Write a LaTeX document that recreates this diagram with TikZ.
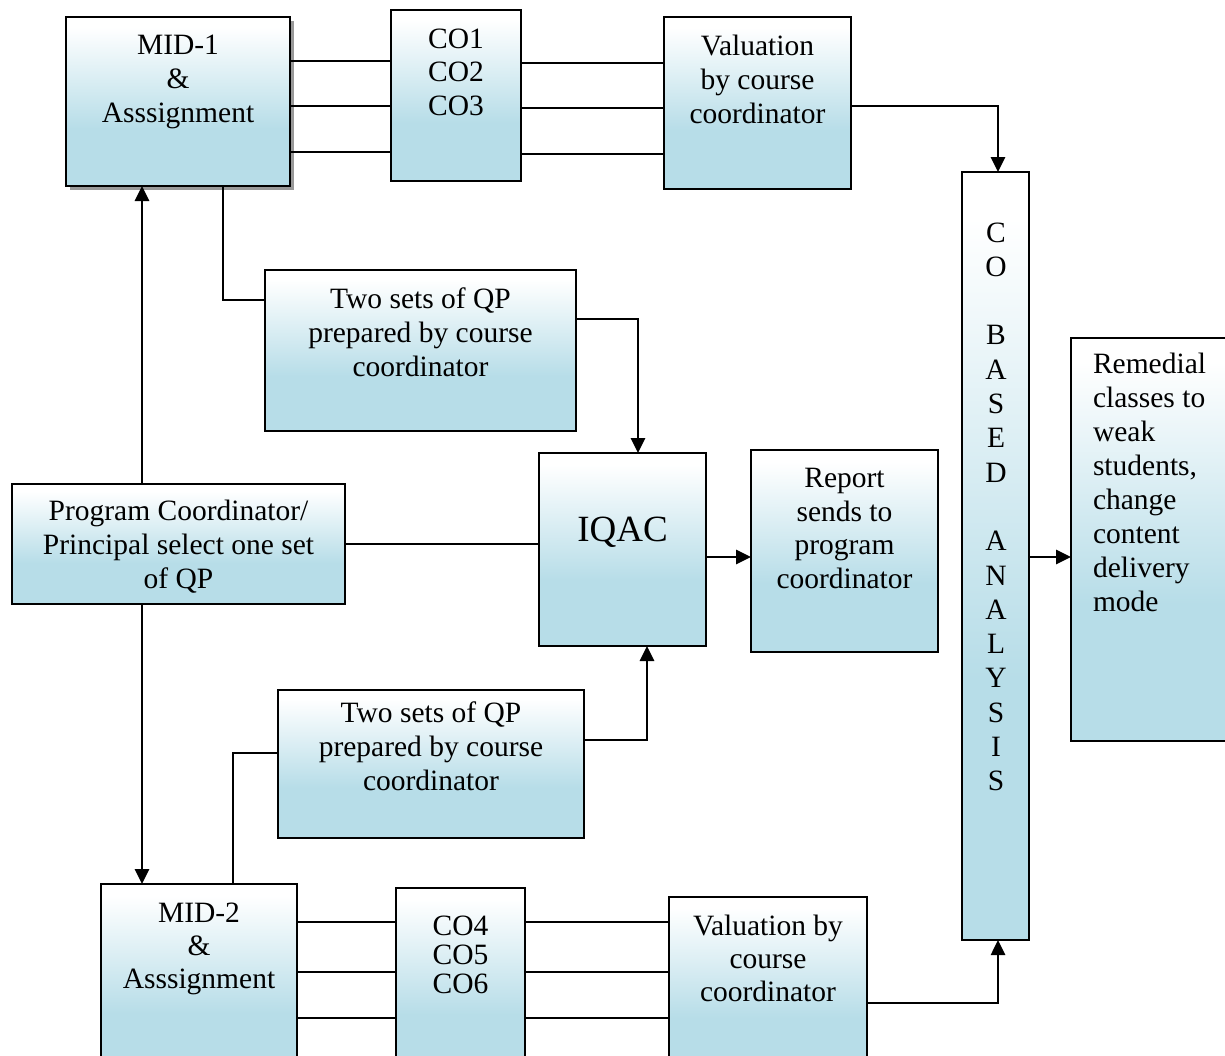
\documentclass[tikz,border=0pt]{standalone}
\usepackage{fontspec}
\setmainfont{Liberation Serif}
\usetikzlibrary{arrows.meta,shadows}
\definecolor{bl}{RGB}{183,221,232}
\pgfdeclareverticalshading{boxfill}{100bp}{color(0bp)=(bl); color(42bp)=(bl); color(72bp)=(white); color(100bp)=(white)}
\begin{document}
\begin{tikzpicture}[x=1pt,y=-1pt,
  box/.style={draw, line width=2.7pt, shade, shading=boxfill, inner sep=0pt, outer sep=0pt},
  txt/.style={font=\fontsize{29.5}{34}\selectfont, inner sep=0pt, outer sep=0pt, align=center, anchor=north},
  conn/.style={line width=2.7pt},
  arr/.style={conn, -{Triangle[length=15pt,width=14pt]}}]
\useasboundingbox (0,0) rectangle (1225,1055);
\clip (0,0) rectangle (1225,1055);
% boxes
\node[box, minimum width=224pt, minimum height=169pt,
      drop shadow={shadow xshift=3.5pt, shadow yshift=-3.5pt, fill=black!40, opacity=1}] (mid1) at (178,101.5) {};
\node[box, minimum width=130pt, minimum height=171pt] (co1) at (456,95.5) {};
\node[box, minimum width=187pt, minimum height=172pt] (val1) at (757.5,103) {};
\node[box, minimum width=67pt, minimum height=768pt] (coba) at (995.5,556) {};
\node[box, minimum width=169pt, minimum height=403pt] (rem) at (1155.5,539.5) {};
\node[box, minimum width=311pt, minimum height=161pt] (qp1) at (420.5,350.5) {};
\node[box, minimum width=167pt, minimum height=193pt] (iqac) at (622.5,549.5) {};
\node[box, minimum width=187pt, minimum height=202pt] (rep) at (844.5,551) {};
\node[box, minimum width=333pt, minimum height=120pt] (prog) at (178.5,544) {};
\node[box, minimum width=306pt, minimum height=148pt] (qp2) at (431,764) {};
\node[box, minimum width=196pt, minimum height=196pt] (mid2) at (199,982) {};
\node[box, minimum width=129pt, minimum height=192pt] (co2) at (460.5,984) {};
\node[box, minimum width=198pt, minimum height=183pt] (val2) at (768,988.5) {};
% texts
\node[txt] (mid1t) at (178,35.5) {MID-1\\\&\\Asssignment};
\node[txt, font=\fontsize{29.5}{33.5}\selectfont] (co1t) at (456,28.5) {CO1\\CO2\\CO3};
\node[txt] (val1t) at (757.5,35.5) {Valuation\\by course\\coordinator};
\node[txt] (qp1t) at (420.5,287.5) {Two sets of QP\\prepared by course\\coordinator};
\node[inner sep=0pt, anchor=base, font=\fontsize{37}{40}\selectfont] (iqact) at (622.5,541) {IQAC};
\node[txt, font=\fontsize{29.5}{33.5}\selectfont] (rept) at (844.5,468.5) {Report\\sends to\\program\\coordinator};
\node[txt] (progt) at (178.5,500.5) {Program Coordinator/\\Principal select one set\\of QP};
\node[txt] (qp2t) at (431,701.5) {Two sets of QP\\prepared by course\\coordinator};
\node[txt, font=\fontsize{29.5}{33}\selectfont] (mid2t) at (199,902.5) {MID-2\\\&\\Asssignment};
\node[txt, font=\fontsize{29.5}{29}\selectfont] (co2t) at (460.5,915.5) {CO4\\CO5\\CO6};
\node[txt, font=\fontsize{29.5}{33}\selectfont] (val2t) at (768,915.5) {Valuation by\\course\\coordinator};
\node[txt, align=left, anchor=north west] (remt) at (1093,353.5) {Remedial\\classes to\\weak\\students,\\change\\content\\delivery\\mode};
\node[txt, font=\fontsize{29.5}{34.3}\selectfont] (cobat) at (996,222.5) {C\\O\\~\\B\\A\\S\\E\\D\\~\\A\\N\\A\\L\\Y\\S\\I\\S};
% connectors: top row
\draw[conn] (mid1.east |- 0,61) -- (co1.west |- 0,61);
\draw[conn] (mid1.east |- 0,106) -- (co1.west |- 0,106);
\draw[conn] (mid1.east |- 0,152) -- (co1.west |- 0,152);
\draw[conn] (co1.east |- 0,63) -- (val1.west |- 0,63);
\draw[conn] (co1.east |- 0,108) -- (val1.west |- 0,108);
\draw[conn] (co1.east |- 0,154) -- (val1.west |- 0,154);
\draw[arr] (val1.east |- 0,106) -| (coba.north -| 998,0);
% bottom row
\draw[conn] (mid2.east |- 0,922) -- (co2.west |- 0,922);
\draw[conn] (mid2.east |- 0,972) -- (co2.west |- 0,972);
\draw[conn] (mid2.east |- 0,1018) -- (co2.west |- 0,1018);
\draw[conn] (co2.east |- 0,922) -- (val2.west |- 0,922);
\draw[conn] (co2.east |- 0,972) -- (val2.west |- 0,972);
\draw[conn] (co2.east |- 0,1018) -- (val2.west |- 0,1018);
\draw[arr] (val2.east |- 0,1003) -| (coba.south -| 998,0);
% middle
\draw[conn] (mid1.south -| 223,0) |- (qp1.west |- 0,300);
\draw[arr] (qp1.east |- 0,319) -| (iqac.north -| 638,0);
\draw[arr] (prog.north -| 142,0) -- (mid1.south -| 142,0);
\draw[conn] (prog.east) -- (iqac.west |- prog.east);
\draw[arr] (prog.south -| 142,0) -- (mid2.north -| 142,0);
\draw[conn] (mid2.north -| 233,0) |- (qp2.west |- 0,753);
\draw[arr] (qp2.east |- 0,740) -| (iqac.south -| 647,0);
\draw[arr] (iqac.east |- 0,557) -- (rep.west |- 0,557);
\draw[arr] (coba.east |- 0,557) -- (rem.west |- 0,557);
\end{tikzpicture}
\end{document}
